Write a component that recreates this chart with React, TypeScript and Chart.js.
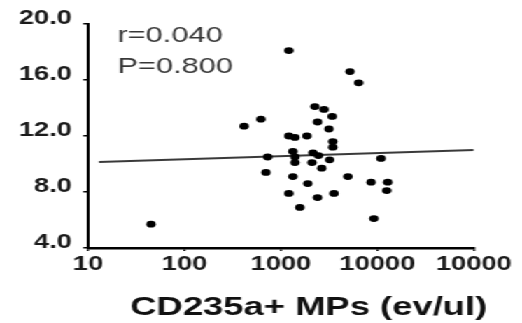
import React, { useEffect, useRef } from "react";
import { Chart, registerables } from "chart.js";

Chart.register(...registerables);

// ---- data ----
const xValues = [45, 415, 620, 730, 700, 1210, 5200, 6400, 2250, 2800, 3400, 2400, 3150, 3450, 3450, 1210, 1400, 1860, 1330, 1400, 2150, 2450, 1400, 2100, 2650, 3200, 1330, 1900, 1210, 2400, 3550, 1570, 4950, 10900, 8600, 12800, 12500, 9200];
const yValues = [5.7, 12.7, 13.2, 10.5, 9.4, 18.1, 16.6, 15.8, 14.1, 13.9, 13.4, 13.0, 12.5, 11.6, 11.2, 12.0, 11.9, 12.0, 10.9, 10.5, 10.8, 10.6, 10.1, 10.1, 9.7, 10.3, 9.1, 8.6, 7.9, 7.6, 7.9, 6.9, 9.1, 10.4, 8.7, 8.7, 8.1, 6.1];
const fitX = [13, 100000];
const fitY = [10.15, 11.0];
const xTickValues = [10, 100, 1000, 10000, 100000];
const xTickLabels = ["10", "100", "1000", "10000", "10000"];
const yTickValues = [4, 8, 12, 16, 20];
const yTickLabels = ["4.0", "8.0", "12.0", "16.0", "20.0"];
const statLines = ["r=0.040", "P=0.800"];
const xTitle = "CD235a+ MPs (ev/ul)";

const W = 373;
const H = 323;
const SX = 522 / W;
const FONT = '"Liberation Sans", Arial, sans-serif';

const textPlugin = {
  id: "texts",
  afterDraw(chart: any) {
    const { ctx, chartArea: a } = chart;
    ctx.save();
    ctx.fillStyle = "#383838";
    ctx.font = `22px ${FONT}`;
    ctx.textBaseline = "middle";
    ctx.textAlign = "left";
    ctx.fillText(statLines[0], a.left + 21, a.top + 12);
    ctx.fillText(statLines[1], a.left + 21, a.top + 43);
    ctx.fillStyle = "#111";
    ctx.font = `bold 26px ${FONT}`;
    ctx.textAlign = "center";
    ctx.fillText(xTitle, a.left + (a.right - a.left) * 0.572, a.bottom + 60);
    ctx.restore();
  },
};

export default function App() {
  const ref = useRef<HTMLCanvasElement | null>(null);
  useEffect(() => {
    if (!ref.current) return;
    const points = xValues.map((x, i) => ({ x, y: yValues[i] }));
    const fit = fitX.map((x, i) => ({ x, y: fitY[i] }));
    const chart = new Chart(ref.current, {
      type: "scatter",
      data: {
        datasets: [
          {
            data: points,
            backgroundColor: "#000",
            borderColor: "#000",
            pointRadius: 3.4,
            pointBorderWidth: 0,
          },
          {
            data: fit,
            showLine: true,
            borderColor: "#3a3a3a",
            borderWidth: 2,
            pointRadius: 0,
          } as any,
        ],
      },
      options: {
        animation: false,
        responsive: false,
        maintainAspectRatio: false,
        layout: { padding: { top: 24, right: W - 338.6, left: 0, bottom: 0 } },
        plugins: { legend: { display: false }, tooltip: { enabled: false } },
        scales: {
          x: {
            type: "logarithmic",
            min: 10,
            max: 100000,
            afterBuildTicks: (scale: any) => {
              scale.ticks = xTickValues.map((v) => ({ value: v }));
            },
            afterFit: (scale: any) => {
              scale.height = H - 248;
            },
            grid: { drawOnChartArea: false, drawTicks: true, tickLength: 3, color: "#000", lineWidth: 1.5 },
            border: { display: true, color: "#000", width: 2.5 },
            ticks: {
              autoSkip: false,
              maxRotation: 0,
              padding: 2,
              color: "#1a1a1a",
              font: { family: FONT, size: 19.5, weight: "bold" },
              callback: (_v: any, i: number) => xTickLabels[i],
            },
          },
          y: {
            type: "linear",
            min: 4,
            max: 20,
            afterBuildTicks: (scale: any) => {
              scale.ticks = yTickValues.map((v) => ({ value: v }));
            },
            afterFit: (scale: any) => {
              scale.width = 62.9;
            },
            grid: { drawOnChartArea: false, drawTicks: true, tickLength: 3.5, color: "#000", lineWidth: 1.5 },
            border: { display: true, color: "#000", width: 2 },
            ticks: {
              padding: 8,
              labelOffset: -5,
              color: "#1a1a1a",
              font: { family: FONT, size: 19.5, weight: "bold" },
              callback: (_v: any, i: number) => yTickLabels[i],
            },
          },
        },
      } as any,
      plugins: [textPlugin],
    });
    return () => chart.destroy();
  }, []);

  return (
    <div
      style={{
        position: "absolute",
        left: 0,
        top: 0,
        width: W,
        height: H,
        transform: `scaleX(${SX})`,
        transformOrigin: "0 0",
        background: "#fff",
      }}
    >
      <canvas ref={ref} width={W} height={H} style={{ width: W, height: H, display: "block" }} />
    </div>
  );
}
